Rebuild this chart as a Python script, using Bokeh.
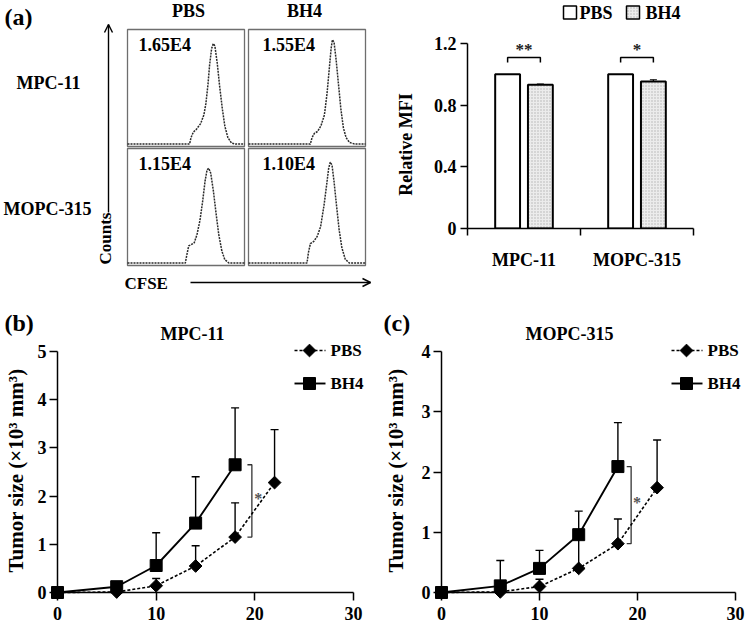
import numpy as np
from bokeh.plotting import figure
from bokeh.layouts import row, column
from bokeh.models import Range1d, FixedTicker, Whisker, ColumnDataSource, TeeHead
from bokeh.core.properties import value
from bokeh.embed import file_html
from bokeh.resources import INLINE

FONT = "Liberation Serif"

# ---------------- data ----------------
# (a) CFSE histograms: x = position across the box (0-100, log CFSE), y = relative counts (0-100)
hist_columns = ["PBS", "BH4"]
hist_rows = ["MPC-11", "MOPC-315"]
hist_mfi = ["1.65E4", "1.55E4", "1.15E4", "1.10E4"]

h_mpc_pbs_x = [0, 53.1, 54.3, 56.3, 58.8, 62.5, 65.3, 67.0, 68.8, 70.2, 71.9, 73.3, 74.7, 76.7, 78.7, 81.0, 83.2, 85.8, 88.9, 92.3, 100]
h_mpc_pbs_y = [0.9, 0.9, 6.6, 11.6, 13.9, 19.1, 26.9, 37.0, 54.3, 71.7, 86.1, 90.5, 88.4, 73.1, 52.9, 32.7, 16.8, 6.6, 1.7, 0.9, 0.9]
h_mpc_bh4_x = [0, 52.9, 54.3, 56.3, 59.1, 62.0, 64.9, 67.1, 69.1, 70.6, 71.7, 73.1, 74.9, 76.9, 78.9, 81.1, 83.4, 86.3, 90.6, 100]
h_mpc_bh4_y = [0.9, 0.9, 6.6, 10.4, 12.1, 17.3, 26.9, 45.7, 68.8, 86.1, 93.9, 91.9, 76.0, 54.3, 32.7, 15.3, 6.6, 2.3, 0.9, 0.9]
h_mopc_pbs_x = [0, 49.4, 50.6, 52.3, 54.3, 57.1, 59.4, 62.0, 64.3, 66.3, 68.0, 69.4, 71.1, 73.4, 75.7, 78.0, 80.6, 83.1, 86.6, 100]
h_mopc_pbs_y = [0.9, 0.9, 7.5, 16.2, 17.1, 19.1, 26.3, 39.3, 56.6, 74.0, 84.1, 85.5, 81.2, 65.3, 45.1, 26.3, 11.8, 4.0, 0.9, 0.9]
h_mopc_bh4_x = [0, 50.0, 51.2, 52.9, 55.8, 58.7, 61.6, 64.5, 66.8, 68.5, 69.9, 71.4, 73.1, 75.1, 77.5, 79.8, 82.7, 86.1, 100]
h_mopc_bh4_y = [0.9, 0.9, 10.1, 18.2, 20.2, 24.6, 33.2, 52.0, 70.8, 85.3, 91.0, 88.2, 73.7, 53.5, 30.3, 14.5, 4.3, 0.9, 0.9]

# (a) relative MFI bar chart
mfi_groups = ["MPC-11", "MOPC-315"]
mfi_series = ["PBS", "BH4"]
mfi_pbs = [1.0, 1.0]
mfi_bh4 = [0.932, 0.953]
mfi_bh4_err = [0.005, 0.012]
mfi_sig = ["**", "*"]
mfi_ticks = [0, 0.4, 0.8, 1.2]

# (b), (c) tumor growth (x10^3 mm^3)
days_pbs = [0, 6, 10, 14, 18, 22]
days_bh4 = [0, 6, 10, 14, 18]
mpc_pbs = [0, 0.01, 0.14, 0.55, 1.15, 2.28]
mpc_pbs_err = [0, 0, 0.15, 0.42, 0.71, 1.10]
mpc_bh4 = [0, 0.12, 0.56, 1.44, 2.65]
mpc_bh4_err = [0, 0, 0.68, 0.96, 1.18]
mopc_pbs = [0, 0.01, 0.10, 0.40, 0.81, 1.74]
mopc_pbs_err = [0, 0, 0.12, 0.50, 0.41, 0.79]
mopc_bh4 = [0, 0.11, 0.40, 0.96, 2.09]
mopc_bh4_err = [0, 0.42, 0.30, 0.39, 0.73]
growth_xticks = [0, 10, 20, 30]
growth_ylabel = "Tumor size (\u00d710\u00b3 mm\u00b3)"


def txt(p, x, y, s, size="17px", align="center", baseline="middle", angle=0.0, color="black"):
    p.text([x], [y], text=[s], angle=angle, text_font=value(FONT), text_font_style="bold",
           text_font_size=size, text_align=align, text_baseline=baseline, text_color=color,
           level="overlay")


def style_axis(ax, size="18px"):
    ax.axis_line_width = 1.5
    ax.major_tick_line_width = 1.5
    ax.minor_tick_line_width = 1.5
    ax.major_tick_in = 0
    ax.minor_tick_in = 0
    ax.major_label_text_font = FONT
    ax.major_label_text_font_style = "bold"
    ax.major_label_text_font_size = size
    ax.major_label_text_color = "black"


TOP_H = 300
BOT_H = 324
# ---------------- (a) histograms ----------------
W_A = 377
A_FT, A_FB = 43, 228          # shared frame top/bottom of the top row
pa = figure(width=W_A, height=TOP_H, x_range=Range1d(0, W_A), y_range=Range1d(A_FB, A_FT),
            x_axis_type=None, y_axis_type=None, toolbar_location=None, output_backend="svg",
            min_border_left=0, min_border_right=0, min_border_top=A_FT, min_border_bottom=TOP_H - A_FB,
            outline_line_color=None, title=None)

box_left = [127, 248]
box_top = [29, 148]
BW, BH = 117, 117
hists = [[(h_mpc_pbs_x, h_mpc_pbs_y), (h_mpc_bh4_x, h_mpc_bh4_y)],
         [(h_mopc_pbs_x, h_mopc_pbs_y), (h_mopc_bh4_x, h_mopc_bh4_y)]]
k = 0
for r in range(2):
    for c in range(2):
        L, T = box_left[c], box_top[r]
        pa.quad(left=[L], right=[L + BW], top=[T], bottom=[T + BH], fill_color=None,
                line_color="#6e6e6e", line_width=1.3, level="overlay")
        hx, hy = hists[r][c]
        xs = L + np.array(hx) / 100.0 * BW
        ys = T + BH - 1.5 - np.array(hy) / 100.0 * (BH - 5)
        pa.line(xs, ys, line_color="#2a2a2a", line_width=1.5, line_dash="2 1", level="overlay")
        txt(pa, L + (11 if c == 0 else 14), T + 15, hist_mfi[k], size="18px", align="left")
        k += 1

txt(pa, 188, 10, hist_columns[0], size="18px")
txt(pa, 304, 10, hist_columns[1], size="18px")
txt(pa, 48, 82, hist_rows[0], size="18px")
txt(pa, 47, 208, hist_rows[1], size="18px")
txt(pa, 4, 3, "(a)", size="24px", align="left", baseline="top")
txt(pa, 105, 238, "Counts", size="17px", angle=np.pi / 2)
txt(pa, 124, 283, "CFSE", size="17px", align="left")
# axis arrows
pa.line([108, 108], [212, 24], line_color="black", line_width=1.4, level="overlay")
pa.line([104, 108, 112], [32, 24, 32], line_color="black", line_width=1.4, level="overlay")
pa.line([190, 370], [282, 282], line_color="black", line_width=1.4, level="overlay")
pa.line([362, 370, 362], [278, 282, 286], line_color="black", line_width=1.4, level="overlay")

# ---------------- (a) bar chart ----------------
W_B = 372
B_FL, B_FR = 90, 316
pb = figure(width=W_B, height=TOP_H, x_range=Range1d(0, 2), y_range=Range1d(0, 1.2),
            toolbar_location=None, output_backend="svg", title=None,
            min_border_left=B_FL, min_border_right=W_B - B_FR, min_border_top=A_FT,
            min_border_bottom=TOP_H - A_FB, outline_line_color=None)
pb.grid.visible = False


def bdx(lx):
    return (lx - B_FL) / (B_FR - B_FL) * 2.0


def bdy(ly):
    return (A_FB - ly) / (A_FB - A_FT) * 1.2


gx = np.arange(len(mfi_groups)) + 0.5
pbs_style = dict(fill_color="white", line_color="black", line_width=2)
bh4_style = dict(fill_color="#ececec", line_color="black", line_width=2,
                 hatch_pattern="dot", hatch_color="#b0b0b0", hatch_scale=3, hatch_weight=1)
pb.vbar(x=gx - 0.145, top=mfi_pbs, width=0.22, **pbs_style)
pb.vbar(x=gx + 0.145, top=mfi_bh4, width=0.22, **bh4_style)
esrc = ColumnDataSource(dict(x=gx + 0.145, lo=mfi_bh4, hi=np.array(mfi_bh4) + np.array(mfi_bh4_err)))
pb.add_layout(Whisker(source=esrc, base="x", lower="lo", upper="hi",
                      upper_head=TeeHead(size=7, line_width=1.2), lower_head=None, line_width=1.2))
for i in range(len(mfi_groups)):
    x1, x2 = gx[i] - 0.145, gx[i] + 0.145
    pb.line([x1, x1, x2, x2], [1.077, 1.109, 1.109, 1.077], line_color="black", line_width=1.5)
    txt(pb, gx[i], 1.16, mfi_sig[i], size="17px", color="#222222")

# legend (drawn above the frame)
pb.rect(x=[bdx(569.5 - 377)], y=[bdy(12)], width=13, height=13, width_units="screen",
        height_units="screen", level="overlay", **dict(pbs_style, line_width=1.5))
txt(pb, bdx(579 - 377), bdy(12), mfi_series[0], size="18px", align="left")
pb.rect(x=[bdx(632.5 - 377)], y=[bdy(12)], width=13, height=13, width_units="screen",
        height_units="screen", level="overlay", **dict(bh4_style, line_width=1.5))
txt(pb, bdx(645 - 377), bdy(12), mfi_series[1], size="18px", align="left")
txt(pb, bdx(405 - 377), bdy(144), "Relative MFI", size="18px", angle=np.pi / 2)

pb.yaxis.ticker = FixedTicker(ticks=mfi_ticks)
pb.yaxis.major_label_overrides = {0: "0"}
pb.xaxis.ticker = FixedTicker(ticks=list(gx), minor_ticks=[0, 1, 2])
pb.xaxis.major_label_overrides = {float(g): n for g, n in zip(gx, mfi_groups)}
style_axis(pb.xaxis[0])
style_axis(pb.yaxis[0])
pb.yaxis.major_tick_out = 7
pb.yaxis.minor_tick_line_color = None
pb.yaxis.major_label_standoff = 4
pb.xaxis.major_tick_out = 0
pb.xaxis.minor_tick_out = 7
pb.xaxis.minor_tick_line_color = "black"
pb.xaxis.major_label_standoff = 14


# ---------------- (b), (c) growth curves ----------------
G_FT, G_FB = 51, 292


def growth(width, fl, fr, ymax, title, tag, tag_lx, title_lx, ylab_lx, pbs, pbs_e, bh4, bh4_e,
           brk_x, star_xy, leg_line, leg_mark, leg_text_lx):
    p = figure(width=width, height=BOT_H, x_range=Range1d(0, 30), y_range=Range1d(0, ymax),
               toolbar_location=None, output_backend="svg", title=None,
               min_border_left=fl, min_border_right=width - fr, min_border_top=G_FT,
               min_border_bottom=BOT_H - G_FB, outline_line_color=None)
    p.grid.visible = False
    sx = (fr - fl) / 30.0
    sy = (G_FB - G_FT) / float(ymax)

    def dx(lx):
        return (lx - fl) / sx

    def dy(ly):
        return (G_FB - ly) / sy

    for days, vals, errs in ((days_pbs, pbs, pbs_e), (days_bh4, bh4, bh4_e)):
        d = [(x, v, e) for x, v, e in zip(days, vals, errs) if e > 0]
        src = ColumnDataSource(dict(x=[a[0] for a in d], lo=[a[1] for a in d], hi=[a[1] + a[2] for a in d]))
        p.add_layout(Whisker(source=src, base="x", lower="lo", upper="hi",
                             upper_head=TeeHead(size=8, line_width=1.4), lower_head=None, line_width=1.4))

    pbs_line = dict(line_color="black", line_width=1.6, line_dash="3 2")
    bh4_line = dict(line_color="black", line_width=1.9)
    pbs_mark = dict(marker="square", angle=np.pi / 4, size=9, color="black")
    bh4_mark = dict(marker="square", size=12, color="black")
    p.line(days_pbs, pbs, level="overlay", **pbs_line)
    p.line(days_bh4, bh4, level="overlay", **bh4_line)
    p.scatter(days_pbs, pbs, level="overlay", **pbs_mark)
    p.scatter(days_bh4, bh4, level="overlay", **bh4_mark)

    i18b = days_bh4.index(18)
    i18p = days_pbs.index(18)
    p.line([brk_x - 0.45, brk_x, brk_x, brk_x - 0.45], [bh4[i18b], bh4[i18b], pbs[i18p], pbs[i18p]],
           line_color="#333333", line_width=1.3)
    txt(p, star_xy[0], star_xy[1], "*", size="16px", color="#555555")

    p.xaxis.ticker = FixedTicker(ticks=growth_xticks)
    p.yaxis.ticker = FixedTicker(ticks=list(range(ymax + 1)))
    for ax in (p.xaxis[0], p.yaxis[0]):
        style_axis(ax)
        ax.major_tick_out = 8
        ax.minor_tick_line_color = None
    p.yaxis.major_label_standoff = 3
    p.xaxis.major_label_standoff = 6

    # texts outside the frame
    txt(p, dx(ylab_lx), dy(170), growth_ylabel, size="21px", angle=np.pi / 2)
    txt(p, dx(title_lx), dy(33), title, size="18px")
    txt(p, dx(tag_lx), dy(9), tag, size="24px", align="left", baseline="top")

    # legend
    yp, yb = dy(50), dy(83)
    p.line([dx(leg_line[0]), dx(leg_line[1])], [yp, yp], level="overlay", **pbs_line)
    p.scatter([dx(leg_mark)], [yp], level="overlay", **pbs_mark)
    txt(p, dx(leg_text_lx), yp, "PBS", align="left")
    p.line([dx(leg_line[0]), dx(leg_line[1])], [yb, yb], level="overlay", **bh4_line)
    p.scatter([dx(leg_mark)], [yb], level="overlay", **bh4_mark)
    txt(p, dx(leg_text_lx), yb, "BH4", align="left")
    return p


pc_b = growth(377, 57, 353, 5, "MPC-11", "(b)", 4, 192, 15, mpc_pbs, mpc_pbs_err, mpc_bh4, mpc_bh4_err,
              19.7, (20.35, 1.95), (294, 325), 309, 330)
pc_c = growth(372, 64, 358, 4, "MOPC-315", "(c)", 6, 192, 18, mopc_pbs, mopc_pbs_err, mopc_bh4, mopc_bh4_err,
              19.35, (19.95, 1.49), (294, 325), 309, 330)

layout = column(row(pa, pb), row(pc_b, pc_c))
open("out.html", "w").write(file_html(layout, INLINE))
